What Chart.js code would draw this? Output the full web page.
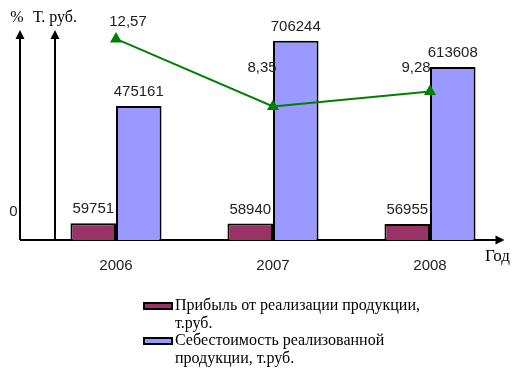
<!DOCTYPE html>
<html>
<head>
<meta charset="utf-8">
<script src="https://cdn.jsdelivr.net/npm/chart.js@4"></script>
<style>
  html, body { margin: 0; padding: 0; background: #fff; }
  #wrap { width: 520px; height: 377px; }
</style>
</head>
<body>
<div id="wrap"><canvas id="grafica"></canvas></div>
<script>
//Datos
const anios = ['2006', '2007', '2008'];
const pribyl = [59751, 58940, 56955];
const sebestoimost = [475161, 706244, 613608];
const rentabelnost = [12.57, 8.35, 9.28];
const rentabelnostTxt = ['12,57', '8,35', '9,28'];
const leyenda = [
  ['Прибыль от реализации продукции,', 'т.руб.'],
  ['Себестоимость реализованной', 'продукции, т.руб.']
];

const sans = '15px "Liberation Sans", Arial, sans-serif';
const serif = '16px "Liberation Serif", "Times New Roman", serif';

function flecha(ctx, x1, y1, x2, y2) {
  const a = Math.atan2(y2 - y1, x2 - x1);
  const L = 9, W = 4.5;
  ctx.beginPath();
  ctx.moveTo(x1, y1);
  ctx.lineTo(x2 - Math.cos(a) * L * 0.8, y2 - Math.sin(a) * L * 0.8);
  ctx.stroke();
  ctx.beginPath();
  ctx.moveTo(x2, y2);
  ctx.lineTo(x2 - Math.cos(a) * L - Math.sin(a) * W, y2 - Math.sin(a) * L + Math.cos(a) * W);
  ctx.lineTo(x2 - Math.cos(a) * L + Math.sin(a) * W, y2 - Math.sin(a) * L - Math.cos(a) * W);
  ctx.closePath();
  ctx.fill();
}

//Ejes con flechas, etiquetas y leyenda
const extras = {
  id: 'extras',
  beforeDatasetsDraw(chart) {
    const ctx = chart.ctx;
    const ca = chart.chartArea;
    ctx.save();
    ctx.strokeStyle = '#000';
    ctx.fillStyle = '#000';
    ctx.lineWidth = 2;
    const x0 = ca.left - 17.5;
    // eje X
    flecha(ctx, x0, ca.bottom, ca.right - 4, ca.bottom);
    // eje %
    flecha(ctx, x0, ca.bottom, x0, ca.top);
    // eje T. руб.
    flecha(ctx, x0 + 35, ca.bottom, x0 + 35, ca.top);
    ctx.restore();
  },
  afterDatasetsDraw(chart) {
    const ctx = chart.ctx;
    const ca = chart.chartArea;
    const xs = chart.scales.x;
    ctx.save();
    ctx.fillStyle = '#222';
    ctx.textAlign = 'center';
    ctx.textBaseline = 'middle';
    ctx.font = sans;

    // valores de barras
    [0, 1].forEach(d => {
      chart.getDatasetMeta(d).data.forEach((el, i) => {
        ctx.fillText(String(chart.data.datasets[d].data[i]), el.x, el.y - 14);
      });
    });

    // valores de la linea
    const desp = [[12, -17], [-11, -39], [-14, -24]];
    chart.getDatasetMeta(2).data.forEach((el, i) => {
      ctx.fillText(rentabelnostTxt[i], el.x + desp[i][0], el.y + desp[i][1]);
    });

    // años
    anios.forEach((a, i) => {
      ctx.fillText(a, xs.getPixelForValue(i), ca.bottom + 26);
    });

    // cero
    ctx.fillText('0', ca.left - 24, ca.bottom - 28);

    // titulos de ejes
    ctx.fillStyle = '#000';
    ctx.font = serif;
    ctx.fillText('%', 17, 18);
    ctx.textAlign = 'left';
    ctx.fillText('Т. руб.', 33, 18);
    ctx.font = '17px "Liberation Serif", "Times New Roman", serif';
    ctx.fillText('Год', 485, ca.bottom + 17);

    // leyenda
    ctx.font = serif;
    const colores = ['#993366', '#9999FF'];
    leyenda.forEach((lineas, k) => {
      const y = 306 + k * 35;
      ctx.fillStyle = colores[k];
      ctx.fillRect(144, y - 3, 28, 6);
      ctx.strokeStyle = '#000';
      ctx.lineWidth = 2;
      ctx.strokeRect(144, y - 3, 28, 6);
      ctx.fillStyle = '#000';
      lineas.forEach((t, j) => ctx.fillText(t, 175, y + j * 18));
    });
    ctx.restore();
  }
};

const grafica = document.getElementById('grafica');

new Chart(grafica, {
  data: {
    labels: anios,
    datasets: [
      {
        type: 'bar',
        label: 'Прибыль от реализации продукции, т.руб.',
        data: pribyl,
        backgroundColor: '#993366',
        borderColor: '#000',
        borderWidth: 2,
        yAxisID: 'y',
        order: 2,
      },
      {
        type: 'bar',
        label: 'Себестоимость реализованной продукции, т.руб.',
        data: sebestoimost,
        backgroundColor: '#9999FF',
        borderColor: '#000',
        borderWidth: 2,
        yAxisID: 'y',
        order: 2,
      },
      {
        type: 'line',
        label: '%',
        data: rentabelnost,
        borderColor: '#008000',
        backgroundColor: '#008000',
        borderWidth: 2,
        pointStyle: 'triangle',
        pointRadius: 5,
        yAxisID: 'y1',
        order: 1,
      },
    ],
  },
  options: {
    responsive: true,
    maintainAspectRatio: false,
    animation: false,
    layout: { padding: { left: 37.5, right: 11.5, top: 30, bottom: 137 } },
    datasets: { bar: { categoryPercentage: 0.58, barPercentage: 1.0 } },
    scales: {
      x: { display: false },
      y: { display: false, min: 0, max: 744700 },
      y1: { display: false, min: 0, max: 13.125 },
    },
    plugins: { legend: { display: false }, tooltip: { enabled: false } },
  },
  plugins: [extras],
});
</script>
</body>
</html>
